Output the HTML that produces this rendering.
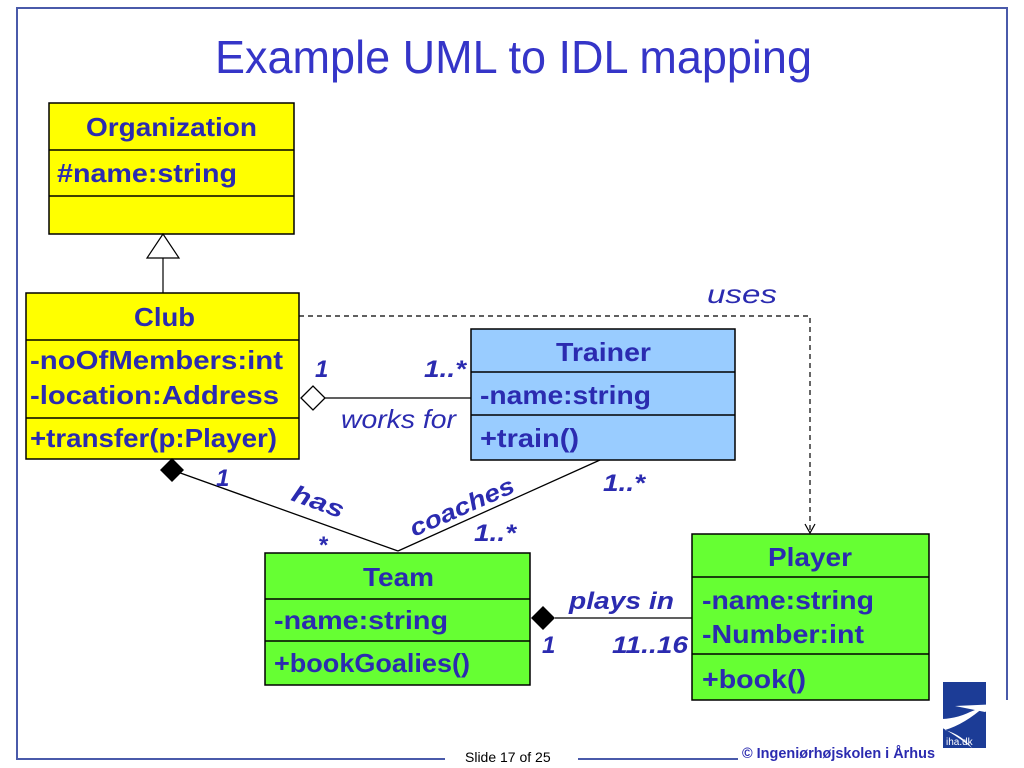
<!DOCTYPE html>
<html><head><meta charset="utf-8"><style>
html,body{margin:0;padding:0;background:#fff;}
svg{display:block;}
text{font-family:"Liberation Sans",Arial,sans-serif;}
.b{font-weight:bold;font-size:26px;fill:#2b2bb0;}
.i{font-style:italic;font-weight:bold;font-size:24px;fill:#2b2bb0;}
.n{font-style:italic;font-size:26px;fill:#2b2bb0;}
</style></head><body>
<svg width="1024" height="768" viewBox="0 0 1024 768" xmlns="http://www.w3.org/2000/svg">
<polyline points="1007,700 1007,8 17,8 17,759 445,759" fill="none" stroke="#4a5aaa" stroke-width="2"/>
<line x1="578" y1="759" x2="738" y2="759" stroke="#4a5aaa" stroke-width="2"/>
<text x="215" y="73" font-size="46" fill="#3535c8" textLength="597" lengthAdjust="spacingAndGlyphs">Example UML to IDL mapping</text>

<rect x="49" y="103" width="245" height="131" fill="#ffff00" stroke="#000" stroke-width="1.5"/>
<line x1="49" y1="150" x2="294" y2="150" stroke="#000" stroke-width="1.5"/>
<line x1="49" y1="196" x2="294" y2="196" stroke="#000" stroke-width="1.5"/>
<text class="b" x="86" y="136" textLength="171" lengthAdjust="spacingAndGlyphs">Organization</text>
<text class="b" x="57" y="182" textLength="180" lengthAdjust="spacingAndGlyphs">#name:string</text>

<polygon points="163,234 147,258 179,258" fill="#fff" stroke="#000" stroke-width="1.2"/>
<line x1="163" y1="258" x2="163" y2="293" stroke="#000" stroke-width="1.2"/>

<rect x="26" y="293" width="273" height="166" fill="#ffff00" stroke="#000" stroke-width="1.5"/>
<line x1="26" y1="340" x2="299" y2="340" stroke="#000" stroke-width="1.5"/>
<line x1="26" y1="418" x2="299" y2="418" stroke="#000" stroke-width="1.5"/>
<text class="b" x="134" y="326" textLength="61" lengthAdjust="spacingAndGlyphs">Club</text>
<text class="b" x="30" y="369" textLength="253" lengthAdjust="spacingAndGlyphs">-noOfMembers:int</text>
<text class="b" x="30" y="404" textLength="249" lengthAdjust="spacingAndGlyphs">-location:Address</text>
<text class="b" x="30" y="447" textLength="247" lengthAdjust="spacingAndGlyphs">+transfer(p:Player)</text>

<rect x="471" y="329" width="264" height="131" fill="#99ccff" stroke="#000" stroke-width="1.5"/>
<line x1="471" y1="372" x2="735" y2="372" stroke="#000" stroke-width="1.5"/>
<line x1="471" y1="415" x2="735" y2="415" stroke="#000" stroke-width="1.5"/>
<text class="b" x="556" y="361" textLength="95" lengthAdjust="spacingAndGlyphs">Trainer</text>
<text class="b" x="480" y="404" textLength="171" lengthAdjust="spacingAndGlyphs">-name:string</text>
<text class="b" x="480" y="447" textLength="99" lengthAdjust="spacingAndGlyphs">+train()</text>

<rect x="265" y="553" width="265" height="132" fill="#66ff33" stroke="#000" stroke-width="1.5"/>
<line x1="265" y1="599" x2="530" y2="599" stroke="#000" stroke-width="1.5"/>
<line x1="265" y1="641" x2="530" y2="641" stroke="#000" stroke-width="1.5"/>
<text class="b" x="363" y="586" textLength="71" lengthAdjust="spacingAndGlyphs">Team</text>
<text class="b" x="274" y="629" textLength="174" lengthAdjust="spacingAndGlyphs">-name:string</text>
<text class="b" x="274" y="672" textLength="196" lengthAdjust="spacingAndGlyphs">+bookGoalies()</text>

<rect x="692" y="534" width="237" height="166" fill="#66ff33" stroke="#000" stroke-width="1.5"/>
<line x1="692" y1="577" x2="929" y2="577" stroke="#000" stroke-width="1.5"/>
<line x1="692" y1="654" x2="929" y2="654" stroke="#000" stroke-width="1.5"/>
<text class="b" x="768" y="566" textLength="84" lengthAdjust="spacingAndGlyphs">Player</text>
<text class="b" x="702" y="609" textLength="172" lengthAdjust="spacingAndGlyphs">-name:string</text>
<text class="b" x="702" y="643" textLength="162" lengthAdjust="spacingAndGlyphs">-Number:int</text>
<text class="b" x="702" y="688" textLength="104" lengthAdjust="spacingAndGlyphs">+book()</text>

<polyline points="299,316 810,316 810,533" fill="none" stroke="#000" stroke-width="1.2" stroke-dasharray="5,4"/>
<polyline points="805,524 810,533 815,524" fill="none" stroke="#000" stroke-width="1.2"/>
<text class="n" x="707" y="303" textLength="70" lengthAdjust="spacingAndGlyphs">uses</text>

<line x1="325" y1="398" x2="471" y2="398" stroke="#000" stroke-width="1.3"/>
<polygon points="301,398 313,386 325,398 313,410" fill="#fff" stroke="#000" stroke-width="1.3"/>
<text class="i" x="315" y="377">1</text>
<text class="i" x="424" y="377" textLength="42" lengthAdjust="spacingAndGlyphs">1..*</text>
<text class="n" x="341" y="428" textLength="115" lengthAdjust="spacingAndGlyphs">works for</text>

<line x1="172" y1="470" x2="398" y2="551" stroke="#000" stroke-width="1.3"/>
<polygon points="160,470 172,458 184,470 172,482" fill="#000"/>
<text class="i" x="216" y="486">1</text>
<text class="i" x="0" y="0" transform="translate(290,500) rotate(20)" textLength="54" lengthAdjust="spacingAndGlyphs">has</text>
<text class="i" x="318" y="553">*</text>

<line x1="398" y1="551" x2="600" y2="460" stroke="#000" stroke-width="1.3"/>
<text class="i" x="0" y="0" transform="translate(414,537) rotate(-24)" textLength="112" lengthAdjust="spacingAndGlyphs">coaches</text>
<text class="i" x="474" y="541" textLength="42" lengthAdjust="spacingAndGlyphs">1..*</text>
<text class="i" x="603" y="491" textLength="42" lengthAdjust="spacingAndGlyphs">1..*</text>

<line x1="555" y1="618" x2="692" y2="618" stroke="#000" stroke-width="1.3"/>
<polygon points="531,618 543,606 555,618 543,630" fill="#000"/>
<text class="i" x="569" y="609" textLength="105" lengthAdjust="spacingAndGlyphs">plays in</text>
<text class="i" x="542" y="653">1</text>
<text class="i" x="612" y="653" textLength="76" lengthAdjust="spacingAndGlyphs">11..16</text>

<text x="465" y="762" font-size="14" fill="#000">Slide 17 of 25</text>
<text x="742" y="758" font-size="15" font-weight="bold" fill="#2b2bb0" textLength="193" lengthAdjust="spacingAndGlyphs">© Ingeniørhøjskolen i Århus</text>
<rect x="943" y="682" width="43" height="66" fill="#1c3c96"/>
<path d="M922,718 Q950,722 970,712 L985,706 Q965,724 945,730 Q962,735 972,748 Q950,730 922,718 Z" fill="#fff"/>
<path d="M955,706 L1000,704 L985,712 Z" fill="#fff"/>
<text x="946" y="745" font-size="10" fill="#fff">iha.dk</text>
</svg>
</body></html>
